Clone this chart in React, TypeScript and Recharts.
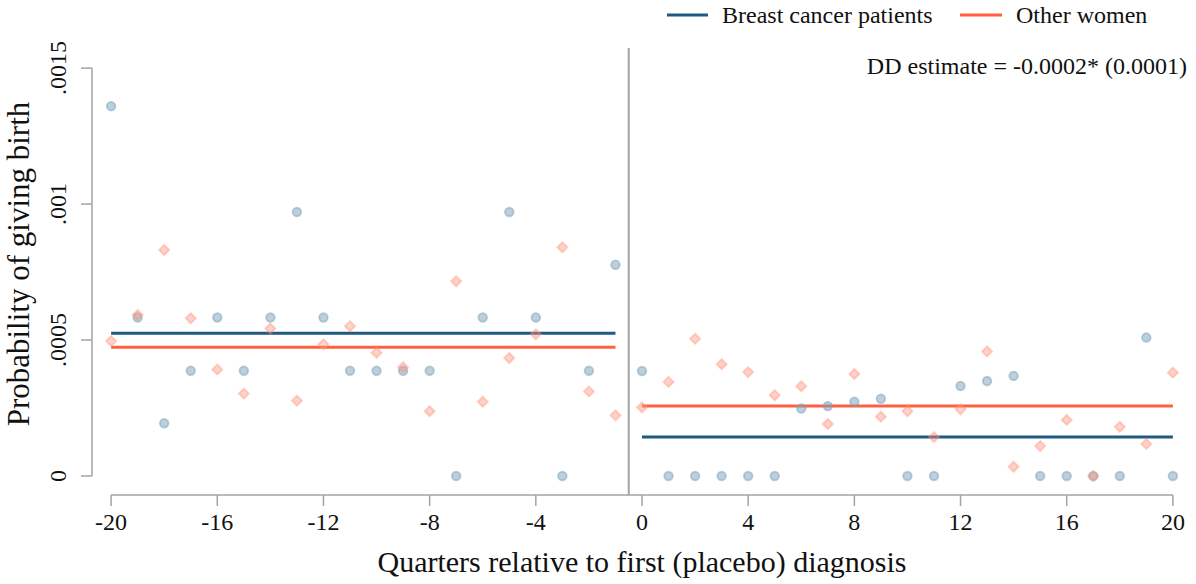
import React from "react"
import { ComposedChart, Scatter, XAxis, YAxis, ReferenceLine } from "recharts"

// quarters relative to first (placebo) diagnosis
const quarters = [
  -20, -19, -18, -17, -16, -15, -14, -13, -12, -11, -10, -9, -8, -7, -6, -5, -4, -3, -2, -1,
  0, 1, 2, 3, 4, 5, 6, 7, 8, 9, 10, 11, 12, 13, 14, 15, 16, 17, 18, 19, 20,
]

// probability of giving birth, breast cancer patients
const patients = [
  0.00136, 0.000583, 0.000194, 0.000387, 0.000583, 0.000387, 0.000583, 0.000971, 0.000583, 0.000387,
  0.000387, 0.000387, 0.000387, 0, 0.000583, 0.000971, 0.000583, 0, 0.000387, 0.000777,
  0.000386, 0, 0, 0, 0, 0, 0.000248, 0.000257, 0.000273, 0.000284,
  0, 0, 0.000331, 0.000349, 0.000368, 0, 0, 0, 0, 0.000509, 0,
]

// probability of giving birth, other women
const others = [
  0.000496, 0.000592, 0.000831, 0.00058, 0.000392, 0.000303, 0.000542, 0.000277, 0.000484, 0.000551,
  0.000453, 0.0004, 0.000238, 0.000716, 0.000273, 0.000434, 0.000521, 0.000841, 0.000311, 0.000223,
  0.000252, 0.000346, 0.000505, 0.000411, 0.000382, 0.000297, 0.00033, 0.000191, 0.000375, 0.000218,
  0.000238, 0.000143, 0.000245, 0.000458, 0.000034, 0.00011, 0.000206, 0, 0.000181, 0.000118, 0.00038,
]

// period means: [pre, post]
const patientMeans = [0.000525, 0.000143]
const otherMeans = [0.000473, 0.000257]
const periodStart = [-20, 0]
const periodEnd = [-1, 20]

const xTicks = [-20, -16, -12, -8, -4, 0, 4, 8, 12, 16, 20]
const yTicks = [0, 0.0005, 0.001, 0.0015]
const yTickLabels = ["0", ".0005", ".001", ".0015"]

const xDomain: [number, number] = [-20.72, 20.72]
const yDomain: [number, number] = [-0.00007, 0.001574]

const BLUE = "#1d5b83"
const ORANGE = "#ff6140"
const GRAY = "#a3a3a3"
const FONT = '"Liberation Serif", "Times New Roman", serif'

const patientData = quarters.map((q, i) => ({ x: q, y: patients[i] }))
const otherData = quarters.map((q, i) => ({ x: q, y: others[i] }))

function Dot(props: any) {
  const { cx, cy } = props
  return (
    <circle cx={cx} cy={cy} r={4.3} fill="#799fb9" fillOpacity={0.5} stroke="#799fb9" strokeOpacity={0.5} strokeWidth={1.8} />
  )
}

function Diamond(props: any) {
  const { cx, cy } = props
  const h = 5
  return (
    <polygon
      points={`${cx},${cy - h} ${cx + h},${cy} ${cx},${cy + h} ${cx - h},${cy}`}
      fill="#ff9178"
      fillOpacity={0.4}
      stroke="#ff9178"
      strokeOpacity={0.4}
      strokeWidth={2}
    />
  )
}

function YTick(props: any) {
  const { x, y, payload } = props
  const i = yTicks.indexOf(payload.value)
  return (
    <text x={x} y={y} transform={`rotate(-90, ${x}, ${y})`} textAnchor="middle" fontSize={24} fontFamily={FONT} fill="#111">
      {yTickLabels[i]}
    </text>
  )
}

export default function App() {
  return (
    <div style={{ position: "absolute", left: 0, top: 0, width: 1196, height: 584, background: "#fff" }}>
      <ComposedChart width={1196} height={584} margin={{ top: 48, right: 4, bottom: 0, left: 0 }}>
        <XAxis
          type="number"
          dataKey="x"
          domain={xDomain}
          ticks={xTicks}
          allowDataOverflow
          axisLine={false}
          tickLine={{ stroke: GRAY, strokeWidth: 1.5 }}
          tickSize={11}
          tickMargin={7}
          height={89}
          tick={{ fontSize: 24, fontFamily: FONT, fill: "#111" }}
        />
        <YAxis
          type="number"
          dataKey="y"
          domain={yDomain}
          ticks={yTicks}
          allowDataOverflow
          axisLine={false}
          tickLine={{ stroke: GRAY, strokeWidth: 1.5 }}
          tickSize={11}
          tickMargin={15}
          width={92}
          tick={<YTick />}
        />
        <ReferenceLine segment={[{ x: xDomain[0], y: 0 }, { x: xDomain[0], y: 0.0015 }]} stroke={GRAY} strokeWidth={1.5} />
        <ReferenceLine segment={[{ x: -20, y: yDomain[0] }, { x: 20, y: yDomain[0] }]} stroke={GRAY} strokeWidth={1.5} />
        <ReferenceLine x={-0.5} stroke={GRAY} strokeWidth={2} />
        <Scatter data={patientData} shape={<Dot />} isAnimationActive={false} />
        <Scatter data={otherData} shape={<Diamond />} isAnimationActive={false} />
        {periodStart.map((s, i) => (
          <ReferenceLine
            key={"p" + i}
            segment={[{ x: s, y: patientMeans[i] }, { x: periodEnd[i], y: patientMeans[i] }]}
            stroke={BLUE}
            strokeWidth={3}
          />
        ))}
        {periodStart.map((s, i) => (
          <ReferenceLine
            key={"o" + i}
            segment={[{ x: s, y: otherMeans[i] }, { x: periodEnd[i], y: otherMeans[i] }]}
            stroke={ORANGE}
            strokeWidth={3}
          />
        ))}
      </ComposedChart>
      <svg width={1196} height={584} style={{ position: "absolute", left: 0, top: 0, pointerEvents: "none" }}>
        <g fontFamily={FONT} fill="#111">
          <line x1={667} y1={15} x2={708} y2={15} stroke={BLUE} strokeWidth={3} />
          <text x={722} y={23} fontSize={24}>Breast cancer patients</text>
          <line x1={960} y1={15} x2={1002} y2={15} stroke={ORANGE} strokeWidth={3} />
          <text x={1016} y={23} fontSize={24}>Other women</text>
          <text x={1187} y={74} fontSize={24} textAnchor="end">DD estimate = -0.0002* (0.0001)</text>
          <text x={642} y={572} fontSize={30} textAnchor="middle">Quarters relative to first (placebo) diagnosis</text>
          <text x={29} y={264} fontSize={31} textAnchor="middle" transform="rotate(-90, 29, 264)">Probability of giving birth</text>
        </g>
      </svg>
    </div>
  )
}
